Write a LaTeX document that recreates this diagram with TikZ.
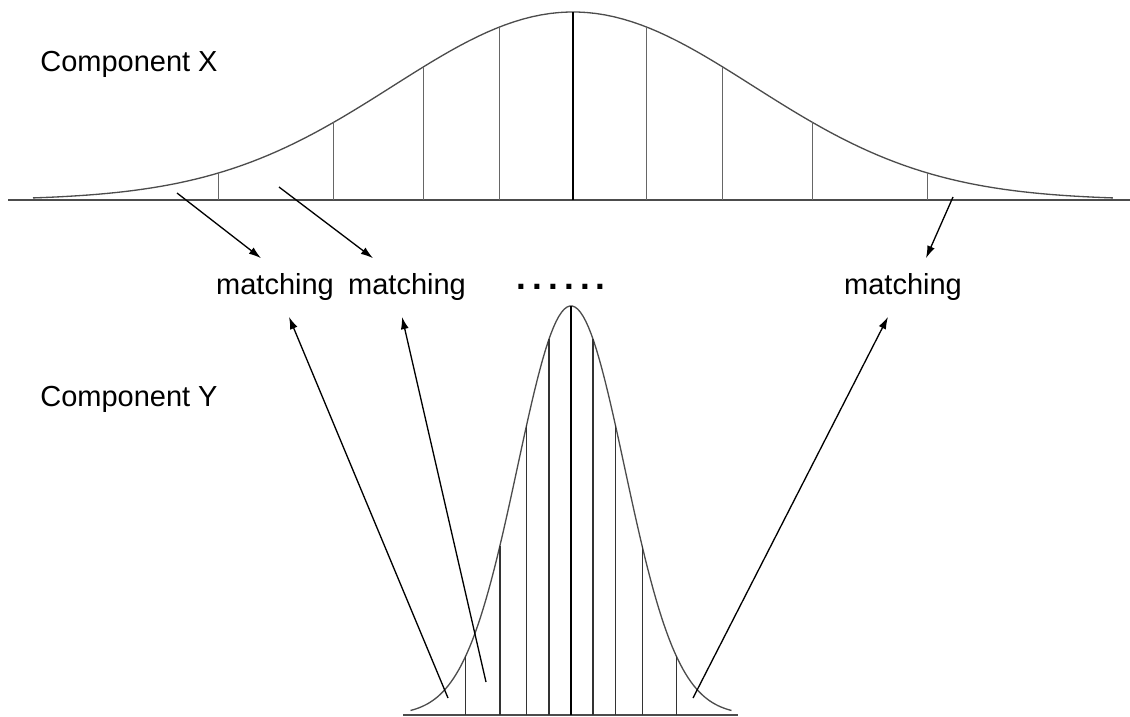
\documentclass[tikz,border=0pt]{standalone}
\usepackage{fontspec}
\setmainfont{Liberation Sans}
\usetikzlibrary{arrows.meta,calc}

\begin{document}
\begin{tikzpicture}[x=0.02cm, y=-0.02cm, >={Latex[length=7pt,width=4.5pt]},
  curve/.style={line width=0.75pt, black!70},
  cut/.style={line width=0.75pt, black!60},
  title/.style={font=\fontsize{16.5}{20}\selectfont, inner sep=0pt},
  lbl/.style={font=\fontsize{16.5}{20}\selectfont, inner sep=0pt, outer ysep=9pt},
  link/.style={->, line width=0.75pt}]
  \useasboundingbox (0,0) rectangle (1130,717);

  % Component X: wide distribution, 9 cuts
  \draw[curve] (8,200) -- (1130,200);
  \draw[curve] plot[domain=-3:3, samples=120] ({573+180*\x}, {200-188*exp(-0.5*(\x)*(\x))});
  \foreach \q in {-1.97,-1.33,-0.83,-0.41,0.41,0.83,1.33,1.97} {
    \draw[cut] ({573+180*\q},200) -- ({573+180*\q},{200-188*exp(-0.5*(\q)*(\q))});
  }
  \draw[line width=0.65pt] (573,200) -- (573,12);
  \node[title, anchor=base west] (compx) at (40,71) {Component X};

  % Component Y: narrow distribution, same cuts
  \draw[curve] (403,715) -- (738,715);
  \draw[curve] plot[domain=-3:3, samples=120] ({571+53.5*\x}, {715-409*exp(-0.5*(\x)*(\x))});
  \foreach \q in {-1.97,-1.33,-0.83,-0.41,0.41,0.83,1.33,1.97} {
    \draw[cut, black!80] ({571+53.5*\q},715) -- ({571+53.5*\q},{715-409*exp(-0.5*(\q)*(\q))});
  }
  \draw[line width=0.65pt] (571,715) -- (571,306);
  \node[title, anchor=base west] (compy) at (40,406) {Component Y};

  % matching labels
  \node[lbl] (m1) at (275,287.5) {matching};
  \node[lbl] (m2) at (407,287.5) {matching};
  \node[lbl] (m3) at (903,287.5) {matching};
  \node[title, font=\fontsize{20}{22}\selectfont\bfseries] (dots) at (561,287)
    {.\kern3.5pt.\kern3.5pt.\kern3.5pt.\kern3.5pt.\kern3.5pt.};

  % arrows from X
  \coordinate (x1) at (177,193);
  \coordinate (x2) at (279,187);
  \coordinate (x3) at (953,197);
  \draw[link] (x1) -- ($(m1.north)+(-14,0)$);
  \draw[link] (x2) -- ($(m2.north)+(-34,0)$);
  \draw[link] (x3) -- ($(m3.north)+(23,0)$);

  % arrows from Y
  \coordinate (y1) at (448,698);
  \coordinate (y2) at (486,682);
  \coordinate (y3) at (693,698);
  \draw[link] (y1) -- ($(m1.south)+(14,0)$);
  \draw[link] (y2) -- ($(m2.south)+(-5,0)$);
  \draw[link] (y3) -- ($(m3.south)+(-15,0)$);
\end{tikzpicture}
\end{document}
